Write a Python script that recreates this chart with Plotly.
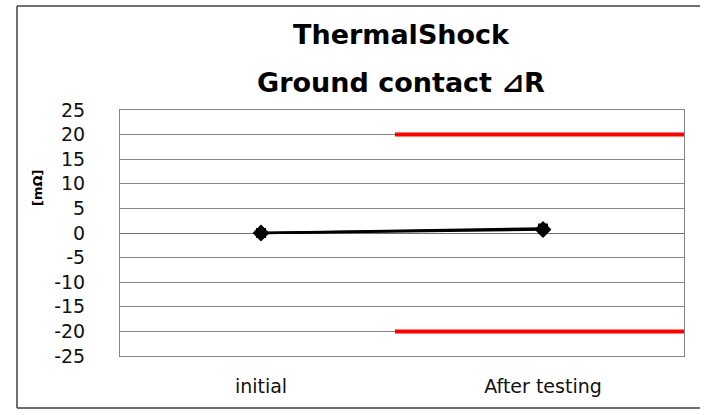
import plotly.graph_objects as go

CATEGORIES = ["initial", "After testing"]
CAT_X = [0, 1]
SAMPLE_1 = [0.0, 0.7]
SAMPLE_2 = [0.0, 0.9]
LIMIT_X = [0.475, 1.5]
UPPER_LIMIT = [20, 20]
LOWER_LIMIT = [-20, -20]
Y_TICKS = list(range(-25, 30, 5))
Y_TICK_TEXT = [str(v) for v in Y_TICKS]  # plain hyphen like Excel

FONT = "DejaVu Sans"

# plot area in page pixels: x 120..684, y 110..356
def px_x(x):
    return (x - 120) / 564


def px_y(y):
    return (356 - y) / 246


fig = go.Figure()
for lim in (UPPER_LIMIT, LOWER_LIMIT):
    fig.add_trace(go.Scatter(
        x=LIMIT_X, y=lim, mode="lines",
        line=dict(color="#ff0000", width=4), showlegend=False,
    ))
fig.add_trace(go.Scatter(
    x=CAT_X, y=SAMPLE_2, mode="lines+markers",
    line=dict(color="#000000", width=2.5),
    marker=dict(symbol="square", size=10, color="#000000"), showlegend=False,
))
fig.add_trace(go.Scatter(
    x=CAT_X, y=SAMPLE_1, mode="lines+markers",
    line=dict(color="#000000", width=2.5),
    marker=dict(symbol="diamond", size=13, color="#000000"), showlegend=False,
))

# chart frame: left, top and bottom edges (right edge is off the picture)
frame = dict(color="#404040", width=1.5)
fx0, fx1, fy0, fy1 = px_x(17), px_x(700), px_y(408), px_y(6)

fig.update_layout(
    width=709, height=415,
    margin=dict(l=120, r=25, t=110, b=59),
    paper_bgcolor="white", plot_bgcolor="white",
    font=dict(family=FONT, color="#111111", size=19),
    xaxis=dict(
        range=[-0.5, 1.5], tickvals=CAT_X, ticktext=CATEGORIES,
        showgrid=False, zeroline=False, showline=True, mirror=True,
        linecolor="#868686", linewidth=1, ticklabelstandoff=13,
        tickfont=dict(size=19),
    ),
    yaxis=dict(
        range=[-25, 25], tickvals=Y_TICKS, ticktext=Y_TICK_TEXT, showgrid=True,
        gridcolor="#868686", gridwidth=1, zeroline=True,
        zerolinecolor="#707070", zerolinewidth=1,
        showline=True, mirror=True, linecolor="#868686", linewidth=1,
        ticklabelstandoff=30, tickfont=dict(size=19),
    ),
    annotations=[
        dict(text="<b>ThermalShock</b>", x=px_x(401), y=px_y(35),
             xref="paper", yref="paper", showarrow=False, yanchor="middle",
             font=dict(size=27, color="#000000")),
        dict(text="<b>Ground contact ⊿R</b>", x=px_x(401), y=px_y(82),
             xref="paper", yref="paper", showarrow=False, yanchor="middle",
             font=dict(size=27, color="#000000")),
        dict(text="<b>[mΩ]</b>", x=px_x(37), y=px_y(188),
             xref="paper", yref="paper", showarrow=False, textangle=-90,
             xanchor="center", yanchor="middle",
             font=dict(size=13, color="#000000")),
    ],
    shapes=[
        dict(type="line", xref="paper", yref="paper",
             x0=fx0, x1=fx0, y0=fy0, y1=fy1, line=frame),
        dict(type="line", xref="paper", yref="paper",
             x0=fx0, x1=fx1, y0=fy1, y1=fy1, line=frame),
        dict(type="line", xref="paper", yref="paper",
             x0=fx0, x1=fx1, y0=fy0, y1=fy0, line=frame),
    ],
)

fig.write_html(
    "out.html",
    config={"displayModeBar": False},
    post_script="document.body.style.margin='0';document.body.style.overflow='hidden';",
)
